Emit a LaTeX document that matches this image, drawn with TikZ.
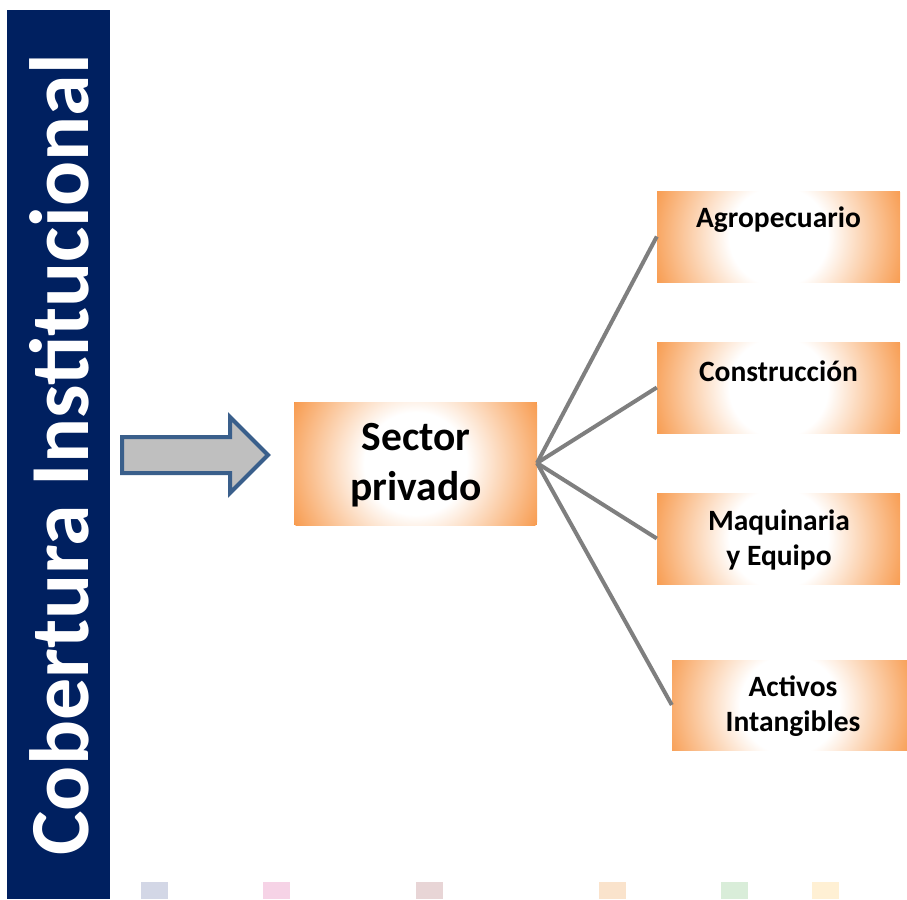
\documentclass[tikz,border=0pt]{standalone}
\usepackage{fontspec}
\setmainfont{Carlito}
\definecolor{barblue}{HTML}{002060}
\definecolor{boxorange}{HTML}{F79646}
\definecolor{linegray}{HTML}{7F7F7F}
\definecolor{arrowblue}{HTML}{3A5F8B}
\definecolor{arrowgray}{HTML}{BFBFBF}
\definecolor{sqa}{HTML}{D3D7E6}
\definecolor{sqb}{HTML}{F6D3E6}
\definecolor{sqc}{HTML}{E8D5D6}
\definecolor{sqd}{HTML}{FAE3CC}
\definecolor{sqe}{HTML}{D9EDD9}
\definecolor{sqf}{HTML}{FFF0D4}
\pgfdeclareradialshading{boxglow}{\pgfpoint{0bp}{0bp}}{color(0bp)=(white); color(9.5bp)=(white); color(26bp)=(boxorange); color(50bp)=(boxorange)}
\tikzset{
  obox/.style={fill=boxorange, inner sep=0pt, minimum width=243pt, minimum height=91pt,
    path picture={\shade[shading=boxglow] (path picture bounding box.center) circle (#1);}},
  obox/.default=130pt,
  btxt/.style={font=\bfseries\fontsize{29.5}{35}\selectfont, align=center, inner sep=0pt},
  branch/.style={draw=linegray, line width=4pt}
}
\begin{document}
\begin{tikzpicture}[x=1pt,y=-1pt]
\useasboundingbox (0,0) rectangle (907,899);
% barra lateral
\fill[barblue] (7,10) rectangle (110,899);
\node[rotate=90, anchor=base, text=white, inner sep=0pt,
  font=\bfseries\fontsize{84}{84}\selectfont] (titulo) at (88,455) {Cobertura Institucional};
% flecha
\draw[arrowblue, fill=arrowgray, line width=4pt, line join=miter]
  (122,437) -- (230,437) -- (230,417) -- (268,455) -- (230,493) -- (230,473) -- (122,473) -- cycle;
% sector privado
\node[obox=135pt, minimum height=123pt] (sector) at (415.5,463.5) {};
\node[inner sep=0pt, align=center, font=\bfseries\fontsize{41.5}{50}\selectfont] (sectortxt) at (416,465) {Sector\\privado};
% ramas
\node[obox] (agro) at (778.5,236.5) {};
\node[obox] (cons) at (778.5,387.5) {};
\node[obox] (maq) at (778.5,538.5) {};
\node[obox, minimum width=235pt, minimum height=90pt] (act) at (789.5,705) {};
\node[btxt] (agrotxt) at (778.5,220) {Agropecuario};
\node[btxt] (constxt) at (778.5,371) {Construcción};
\node[btxt] (maqtxt) at (779,539.5) {Maquinaria\\y Equipo};
\node[btxt] (acttxt) at (793,706.5) {Activos\\Intangibles};
\coordinate (raiz) at (537,463);
\draw[branch] (raiz) -- (agro.west);
\draw[branch] (raiz) -- (cons.west);
\draw[branch] (raiz) -- (maq.west);
\draw[branch] (raiz) -- (act.west);
% cuadros de abajo
\foreach \x/\c in {141/sqa,263/sqb,416/sqc,599/sqd,721/sqe,812/sqf}
  \fill[\c] (\x,882) rectangle ++(27,17);
\end{tikzpicture}
\end{document}
